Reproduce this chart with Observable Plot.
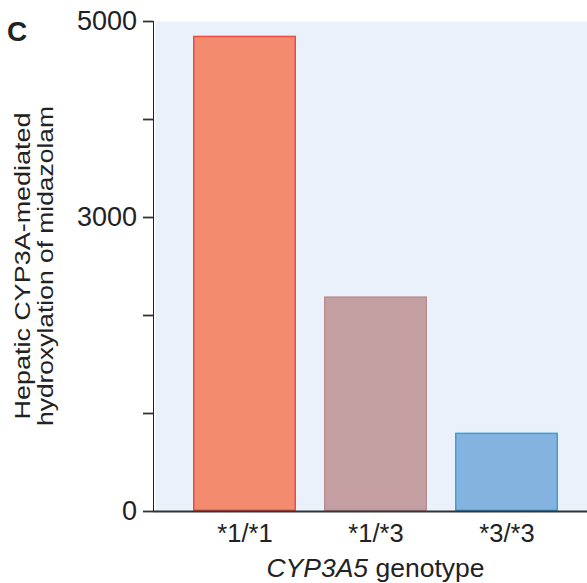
<!DOCTYPE html>
<html>
<head>
<meta charset="utf-8">
<script src="https://cdn.jsdelivr.net/npm/d3@7"></script>
<script src="https://cdn.jsdelivr.net/npm/@observablehq/plot@0.6"></script>
<style>
  html, body { margin: 0; padding: 0; background: #fff; }
  #chart { width: 587px; height: 583px; }
  svg text { font-family: "Liberation Sans", Arial, Helvetica, sans-serif; }
</style>
</head>
<body>
<div id="chart"></div>
<script>
const genotypes = ["*1/*1", "*1/*3", "*3/*3"];
const values = [4850, 2190, 800];
const fills = ["#f38b6f", "#c4a0a3", "#85b3e0"];
const strokes = ["#ee4b42", "#b88d92", "#3a9fdc"];
const yTicks = [0, 1000, 2000, 3000, 4000, 5000];
const yTickLabels = {0: "0", 3000: "3000", 5000: "5000"};

const data = genotypes.map((g, i) => ({genotype: g, value: values[i], fill: fills[i], stroke: strokes[i]}));

const plot = Plot.plot({
  width: 587,
  height: 583,
  marginTop: 21,
  marginBottom: 72,
  marginLeft: 153,
  marginRight: 0,
  style: {fontFamily: "Liberation Sans, Arial, sans-serif", fontSize: "25.5px", color: "#222", background: "white"},
  x: {type: "band", domain: genotypes, range: [164, 587], padding: 0.214, label: null, tickSize: 0, tickPadding: 12},
  y: {domain: [0, 5000], ticks: yTicks, tickFormat: d => yTickLabels[d] ?? "", label: null, tickSize: 10, tickPadding: 6.5, line: true},
  marks: [
    Plot.frame({fill: "#eaf1fa", stroke: null, insetLeft: 2}),
    Plot.barY(data, {x: "genotype", y: "value", fill: "fill", stroke: "stroke", strokeWidth: 1.5, inset: 0.75}),
    Plot.ruleY([0], {stroke: "#333", strokeWidth: 2})
  ]
});

const svg = d3.select(plot);
svg.selectAll("g[aria-label='y-axis tick'] path, g[aria-label='y-axis tick'] line").attr("stroke-width", 1.8).attr("stroke", "#333");
svg.selectAll("[aria-label='y-axis line'] line, [aria-label='y-axis line'] path").attr("stroke-width", 2).attr("stroke", "#333");
svg.selectAll("g[aria-label='y-axis tick label']").style("font-size", "27px");

// Panel letter
svg.append("text").attr("x", 7).attr("y", 41).attr("text-anchor", "start")
  .style("font-size", "28px").style("font-weight", "bold").attr("fill", "#222").text("C");

// Y label (two lines, rotated)
const yMid = (plot.scale("y").apply(0) + plot.scale("y").apply(5000)) / 2;
const yl = svg.append("text").attr("transform", `translate(0,${yMid}) rotate(-90)`)
  .attr("text-anchor", "middle").style("font-size", "22px").attr("fill", "#222");
yl.append("tspan").attr("x", 0).attr("y", 30).attr("textLength", 307).attr("lengthAdjust", "spacingAndGlyphs").text("Hepatic CYP3A-mediated");
yl.append("tspan").attr("x", 0).attr("y", 53).attr("textLength", 320).attr("lengthAdjust", "spacingAndGlyphs").text("hydroxylation of midazolam");

// X label
const xl = svg.append("text").attr("x", (164 + 587) / 2).attr("y", 577)
  .attr("text-anchor", "middle").style("font-size", "26.5px").attr("fill", "#222");
xl.append("tspan").style("font-style", "italic").text("CYP3A5");
xl.append("tspan").text(" genotype");

document.getElementById("chart").appendChild(plot);
</script>
</body>
</html>
